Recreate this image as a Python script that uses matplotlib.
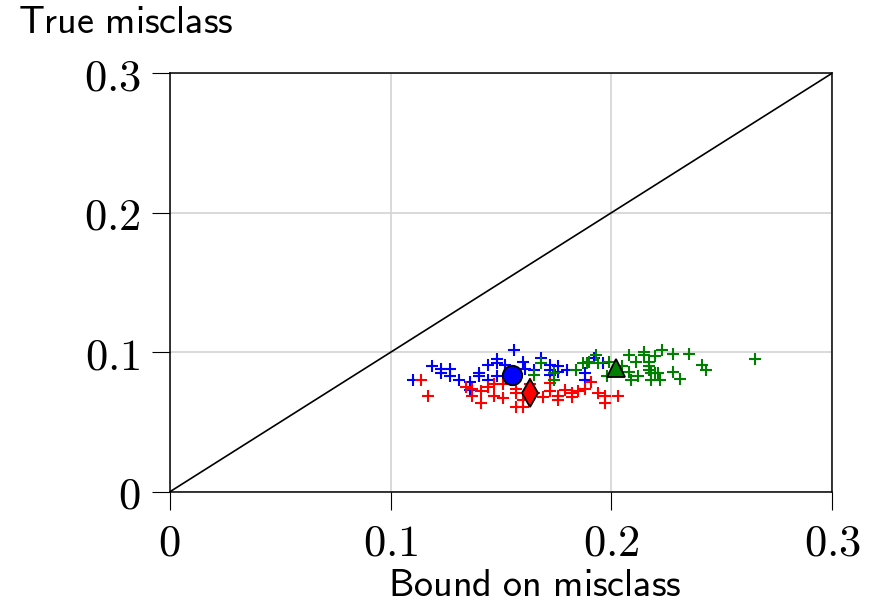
import matplotlib
matplotlib.use("Agg")
import matplotlib.pyplot as plt
import numpy as np

plt.rcParams['mathtext.fontset'] = 'cm'

# blue pluses (bound, true)
blue_x = [0.156, 0.119, 0.123, 0.123, 0.127, 0.127, 0.110, 0.131, 0.136, 0.140,
          0.144, 0.148, 0.148, 0.152, 0.144, 0.148, 0.160, 0.161, 0.165, 0.136,
          0.168, 0.172, 0.172, 0.172, 0.176, 0.176, 0.180, 0.188, 0.188, 0.192,
          0.196, 0.140]
blue_y = [0.102, 0.090, 0.088, 0.085, 0.088, 0.083, 0.080, 0.080, 0.079, 0.083,
          0.091, 0.095, 0.092, 0.091, 0.080, 0.083, 0.093, 0.088, 0.087, 0.073,
          0.096, 0.091, 0.087, 0.084, 0.090, 0.086, 0.087, 0.085, 0.080, 0.096,
          0.092, 0.085]

red_x = [0.114, 0.117, 0.134, 0.137, 0.137, 0.141, 0.141, 0.144, 0.147, 0.147,
         0.151, 0.151, 0.157, 0.157, 0.157, 0.160, 0.160, 0.165, 0.169, 0.172,
         0.172, 0.176, 0.176, 0.179, 0.182, 0.182, 0.185, 0.188, 0.191, 0.194,
         0.197, 0.197, 0.203, 0.163]
red_y = [0.080, 0.069, 0.075, 0.074, 0.069, 0.072, 0.064, 0.075, 0.077, 0.069,
         0.067, 0.077, 0.074, 0.071, 0.061, 0.061, 0.066, 0.071, 0.068, 0.072,
         0.078, 0.069, 0.066, 0.073, 0.071, 0.068, 0.072, 0.074, 0.079, 0.071,
         0.069, 0.064, 0.069, 0.077]

green_x = [0.168, 0.165, 0.174, 0.184, 0.189, 0.190, 0.193, 0.194, 0.199, 0.198,
           0.208, 0.205, 0.208, 0.209, 0.211, 0.212, 0.215, 0.215, 0.217, 0.217,
           0.218, 0.218, 0.220, 0.221, 0.223, 0.228, 0.235, 0.217, 0.220, 0.222,
           0.228, 0.231, 0.241, 0.243, 0.265, 0.174, 0.187]
green_y = [0.092, 0.084, 0.080, 0.087, 0.092, 0.093, 0.098, 0.092, 0.093, 0.083,
           0.098, 0.090, 0.086, 0.080, 0.093, 0.083, 0.100, 0.098, 0.093, 0.090,
           0.085, 0.080, 0.097, 0.085, 0.102, 0.099, 0.099, 0.087, 0.085, 0.080,
           0.086, 0.081, 0.091, 0.087, 0.095, 0.085, 0.092]

# means
blue_mean = (0.155, 0.084)
red_mean = (0.163, 0.071)
green_mean = (0.202, 0.0885)

ticks = [0, 0.1, 0.2, 0.3]
tick_labels = ['$0$', '$0.1$', '$0.2$', '$0.3$']

fig = plt.figure(figsize=(8.75, 6.05), dpi=100)
ax = fig.add_axes([0.194, 0.187, 0.757, 0.692])

ax.grid(True, color='#d3d3d3', lw=1.2, zorder=0)
ax.plot([0, 0.3], [0, 0.3], color='black', lw=1.2, zorder=2)

ax.plot(blue_x, blue_y, '+', color='blue', ms=8, mew=1.5, zorder=3)
ax.plot(red_x, red_y, '+', color='red', ms=8, mew=1.5, zorder=3)
ax.plot(green_x, green_y, '+', color='green', ms=8, mew=1.5, zorder=3)

ax.plot(*blue_mean, 'o', color='blue', mec='black', ms=14, mew=1.3, zorder=4)
ax.plot(*red_mean, 'd', color='red', mec='black', ms=14, mew=1.3, zorder=4)
ax.plot(*green_mean, '^', color='green', mec='black', ms=13, mew=1.3, zorder=4)

ax.set_xlim(0, 0.3)
ax.set_ylim(0, 0.3)
ax.set_xticks(ticks)
ax.set_yticks(ticks)
ax.set_xticklabels(tick_labels, fontsize=32)
ax.set_yticklabels(tick_labels, fontsize=32)
ax.tick_params(direction='out', length=13, width=0.8, pad=8)
for s in ax.spines.values():
    s.set_linewidth(1.1)

fig.text(0.02, 0.962, r'$\mathsf{True\ misclass}$', fontsize=27.5, ha='left', va='center')
fig.text(0.611, 0.032, r'$\mathsf{Bound\ on\ misclass}$', fontsize=27.5, ha='center', va='center')

fig.savefig('out.png', dpi=100)
